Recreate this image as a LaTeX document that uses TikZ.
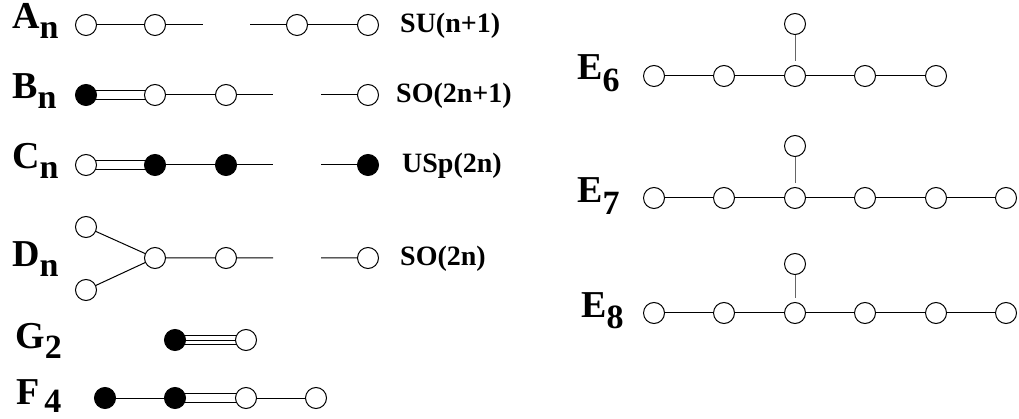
\documentclass[tikz,border=0pt]{standalone}
\usepackage{fontspec}
\setmainfont{Liberation Serif}
\usetikzlibrary{backgrounds}
\newcommand\dynk[3][10]{{\fontsize{38}{38}\selectfont\bfseries #2\raisebox{-#1pt}{\fontsize{34}{34}\selectfont\bfseries #3}}}
\begin{document}
\begin{tikzpicture}[x=1pt,y=-1pt,
  wn/.style={circle,draw,fill=white,minimum size=21pt,inner sep=0pt,line width=1pt},
  bn/.style={wn,fill=black},
  bond/.style={line width=1pt},
  dbond/.style={line width=1pt,double distance=7.5pt},
  vbond/.style={line width=1pt,draw=black!60,shorten >=4pt},
  lbl/.style={anchor=base west,inner sep=0pt},
  grp/.style={anchor=base west,inner sep=0pt,font=\fontsize{28}{28}\selectfont\bfseries}]
\useasboundingbox (0,0) rectangle (1019,419);
% A_n
\node[lbl] (lA) at (12,29) {\dynk{A}{n}};
\node[wn] (a1) at (86,25) {};
\node[wn] (a2) at (155,25) {};
\coordinate (a2e) at (203,25);
\coordinate (a3s) at (250,25);
\node[wn] (a3) at (297,25) {};
\node[wn] (a4) at (368,25) {};
\node[grp] (ga) at (400,33) {SU(n+1)};
\draw[bond] (a1)--(a2) (a2)--(a2e) (a3s)--(a3) (a3)--(a4);
% B_n
\node[lbl] (lB) at (12,99) {\dynk{B}{n}};
\node[bn] (b1) at (86,95) {};
\node[wn] (b2) at (155,95) {};
\node[wn] (b3) at (226,95) {};
\coordinate (b3e) at (273,95);
\coordinate (b4s) at (321,95);
\node[wn] (b4) at (368,95) {};
\node[grp] (gb) at (396,103) {SO(2n+1)};
\draw[bond] (b2)--(b3) (b3)--(b3e) (b4s)--(b4);
\begin{scope}[on background layer]
\draw[dbond] (b1.center)--(b2.center);
\end{scope}
% C_n
\node[lbl] (lC) at (12,169) {\dynk{C}{n}};
\node[wn] (c1) at (86,165) {};
\node[bn] (c2) at (155,165) {};
\node[bn] (c3) at (226,165) {};
\coordinate (c3e) at (273,165);
\coordinate (c4s) at (321,165);
\node[bn] (c4) at (368,165) {};
\node[grp] (gc) at (402,173) {USp(2n)};
\draw[bond] (c2)--(c3) (c3)--(c3e) (c4s)--(c4);
\begin{scope}[on background layer]
\draw[dbond] (c1.center)--(c2.center);
\end{scope}
% D_n
\node[lbl] (lD) at (12,267) {\dynk{D}{n}};
\node[wn] (d1) at (86,227) {};
\node[wn] (d2) at (86,290) {};
\node[wn] (d3) at (155,258) {};
\node[wn] (d4) at (226,258) {};
\coordinate (d4e) at (273,258);
\coordinate (d5s) at (321,258);
\node[wn] (d5) at (368,258) {};
\node[grp] (gd) at (400,266) {SO(2n)};
\draw[bond] (d1)--(d3) (d2)--(d3) (d3)--(d4) (d4)--(d4e) (d5s)--(d5);
% G_2
\node[lbl] (lG) at (15,348) {\dynk{G}{2}};
\node[bn] (g1) at (175,340) {};
\node[wn] (g2) at (246,340) {};
\begin{scope}[on background layer]
\draw[dbond] (g1.center)--(g2.center);
\draw[bond] (g1.center)--(g2.center);
\end{scope}
% F_4
\node[lbl] (lF) at (16,404) {\dynk[8]{F\hspace{5pt}}{4}};
\node[bn] (f1) at (105,398) {};
\node[bn] (f2) at (175,398) {};
\node[wn] (f3) at (246,398) {};
\node[wn] (f4) at (316,398) {};
\draw[bond] (f1)--(f2) (f3)--(f4);
\begin{scope}[on background layer]
\draw[dbond] (f2.center)--(f3.center);
\end{scope}
% E_6
\node[lbl] (lE6) at (577,80) {\dynk[12]{E}{6}};
\foreach \n/\x in {1/654,2/724,3/795,4/865,5/936}
  \node[wn] (e6\n) at (\x,76) {};
\node[wn] (e6t) at (795,24) {};
\draw[bond] (e61)--(e62) (e62)--(e63) (e63)--(e64) (e64)--(e65);
\draw[vbond] (e6t)--(e63);
% E_7
\node[lbl] (lE7) at (577,203) {\dynk[12]{E}{7}};
\foreach \n/\x in {1/654,2/724,3/795,4/865,5/936,6/1006}
  \node[wn] (e7\n) at (\x,198) {};
\node[wn] (e7t) at (795,146) {};
\draw[bond] (e71)--(e72) (e72)--(e73) (e73)--(e74) (e74)--(e75) (e75)--(e76);
\draw[vbond] (e7t)--(e73);
% E_8
\node[lbl] (lE8) at (581,317) {\dynk[11]{E}{8}};
\foreach \n/\x in {1/654,2/724,3/795,4/865,5/936,6/1006}
  \node[wn] (e8\n) at (\x,313) {};
\node[wn] (e8t) at (795,264) {};
\draw[bond] (e81)--(e82) (e82)--(e83) (e83)--(e84) (e84)--(e85) (e85)--(e86);
\draw[vbond] (e8t)--(e83);
\end{tikzpicture}
\end{document}
